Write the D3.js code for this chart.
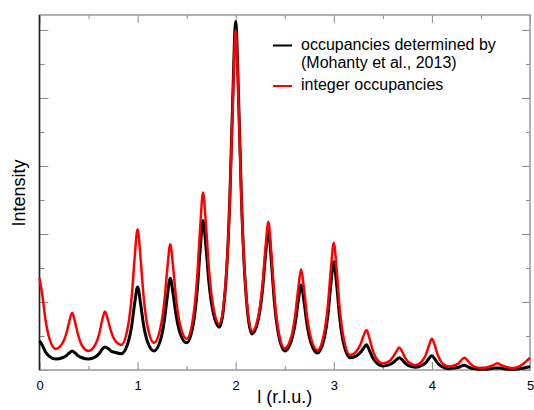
<!DOCTYPE html>
<html>
<head>
<meta charset="utf-8">
<script src="https://cdn.jsdelivr.net/npm/d3@7"></script>
<style>
  body { margin: 0; background: #fff; }
  svg text { font-family: "Liberation Sans", Arial, sans-serif; }
</style>
</head>
<body>
<div id="viz"></div>
<script>
// l positions (r.l.u.)
const lValues = [0, 0.03, 0.06, 0.1, 0.167,
  0.233, 0.273, 0.303, 0.333, 0.363, 0.393, 0.433, 0.5,
  0.567, 0.607, 0.637, 0.667, 0.697, 0.727, 0.767, 0.833,
  0.9, 0.94, 0.97, 1, 1.03, 1.06, 1.1, 1.167,
  1.233, 1.273, 1.303, 1.333, 1.363, 1.393, 1.433, 1.5,
  1.567, 1.607, 1.637, 1.667, 1.697, 1.727, 1.767, 1.833,
  1.9, 1.94, 1.97, 2, 2.03, 2.06, 2.1, 2.167,
  2.233, 2.273, 2.303, 2.333, 2.363, 2.393, 2.433, 2.5,
  2.567, 2.607, 2.637, 2.667, 2.697, 2.727, 2.767, 2.833,
  2.9, 2.94, 2.97, 3, 3.03, 3.06, 3.1, 3.167,
  3.233, 3.273, 3.303, 3.333, 3.363, 3.393, 3.433, 3.5,
  3.567, 3.607, 3.637, 3.667, 3.697, 3.727, 3.767, 3.833,
  3.9, 3.94, 3.97, 4, 4.03, 4.06, 4.1, 4.167,
  4.233, 4.273, 4.303, 4.333, 4.363, 4.393, 4.433, 4.5,
  4.567, 4.607, 4.637, 4.667, 4.697, 4.727, 4.767, 4.833,
  4.9, 4.94, 4.97, 5]

// occupancies determined by (Mohanty et al., 2013)
const blackIntensity = [0.43, 0.36, 0.27, 0.20, 0.16,
  0.18, 0.21, 0.25, 0.28, 0.25, 0.21, 0.18, 0.16,
  0.19, 0.24, 0.30, 0.34, 0.32, 0.28, 0.26, 0.24,
  0.39, 0.65, 0.98, 1.22, 0.98, 0.67, 0.42, 0.28,
  0.44, 0.73, 1.08, 1.35, 1.11, 0.80, 0.54, 0.40,
  0.67, 1.16, 1.75, 2.2, 1.81, 1.29, 0.87, 0.63,
  1.30, 2.52, 4.00, 5.12, 3.97, 2.46, 1.22, 0.53,
  0.76, 1.17, 1.67, 2.05, 1.61, 1.02, 0.55, 0.28,
  0.43, 0.69, 1.01, 1.25, 1.00, 0.67, 0.40, 0.25,
  0.45, 0.81, 1.26, 1.59, 1.24, 0.77, 0.39, 0.18,
  0.21, 0.26, 0.32, 0.37, 0.29, 0.19, 0.11, 0.06,
  0.08, 0.11, 0.15, 0.18, 0.15, 0.10, 0.06, 0.04,
  0.07, 0.11, 0.17, 0.21, 0.16, 0.10, 0.05, 0.02,
  0.03, 0.04, 0.06, 0.07, 0.05, 0.03, 0.02, 0.01,
  0.01, 0.02, 0.03, 0.03, 0.03, 0.02, 0.01, 0.01,
  0.02, 0.03, 0.04, 0.05]

// integer occupancies
const redIntensity = [1.35, 1.09, 0.75, 0.47, 0.31,
  0.39, 0.53, 0.71, 0.84, 0.70, 0.52, 0.36, 0.28,
  0.37, 0.52, 0.72, 0.86, 0.74, 0.58, 0.44, 0.37,
  0.63, 1.08, 1.65, 2.07, 1.65, 1.10, 0.65, 0.40,
  0.62, 1.01, 1.49, 1.85, 1.50, 1.04, 0.67, 0.46,
  0.78, 1.36, 2.07, 2.61, 2.13, 1.49, 0.97, 0.68,
  1.33, 2.49, 3.92, 5.0, 3.89, 2.43, 1.23, 0.57,
  0.81, 1.25, 1.78, 2.18, 1.72, 1.10, 0.60, 0.32,
  0.49, 0.81, 1.19, 1.48, 1.18, 0.79, 0.47, 0.29,
  0.53, 0.95, 1.48, 1.87, 1.46, 0.91, 0.47, 0.22,
  0.28, 0.38, 0.50, 0.59, 0.47, 0.31, 0.17, 0.10,
  0.13, 0.20, 0.27, 0.33, 0.27, 0.18, 0.11, 0.07,
  0.13, 0.23, 0.36, 0.46, 0.36, 0.22, 0.11, 0.05,
  0.07, 0.10, 0.15, 0.18, 0.14, 0.09, 0.05, 0.03,
  0.04, 0.06, 0.08, 0.10, 0.08, 0.06, 0.04, 0.03,
  0.06, 0.10, 0.14, 0.18]

const xMajorTicks = [0, 1, 2, 3, 4, 5]
const xMinorTicks = [0.5, 1.5, 2.5, 3.5, 4.5]
const yMajorTicks = [0, 1, 2, 3, 4, 5]
const yMinorTicks = [0.5, 1.5, 2.5, 3.5, 4.5]

const seriesLabels = [
  ['occupancies determined by', '(Mohanty et al., 2013)'],
  ['integer occupancies']
]
const seriesColors = ['#000', '#f00']

const width = 534,
  height = 410
const plot = { left: 39.5, right: 530, top: 15, bottom: 370 }

const svg = d3.select('#viz').append('svg')
  .attr('width', width)
  .attr('height', height)

const x = d3.scaleLinear().domain([0, 5]).range([plot.left, plot.right])
const y = d3.scaleLinear().domain([0, 5.22]).range([plot.bottom, plot.top])

// inward ticks on all four sides
const tickStyle = g => {
  g.select('.domain').remove()
  g.selectAll('.tick line').attr('stroke', '#888')
}

svg.append('g')
  .attr('transform', `translate(0, ${plot.bottom})`)
  .call(d3.axisBottom(x).tickValues(xMajorTicks).tickSize(-8).tickPadding(11).tickFormat(d3.format('d')))
  .call(tickStyle)
  .call(g => g.selectAll('text').attr('font-size', 13).attr('fill', '#000')
    .attr('font-family', '"Liberation Sans", Arial, sans-serif'))
svg.append('g')
  .attr('transform', `translate(0, ${plot.bottom})`)
  .call(d3.axisBottom(x).tickValues(xMinorTicks).tickSize(-4).tickFormat(''))
  .call(tickStyle)
svg.append('g')
  .attr('transform', `translate(0, ${plot.top})`)
  .call(d3.axisTop(x).tickValues(xMajorTicks).tickSize(-8).tickFormat(''))
  .call(tickStyle)
svg.append('g')
  .attr('transform', `translate(0, ${plot.top})`)
  .call(d3.axisTop(x).tickValues(xMinorTicks).tickSize(-4).tickFormat(''))
  .call(tickStyle)

svg.append('g')
  .attr('transform', `translate(${plot.left}, 0)`)
  .call(d3.axisLeft(y).tickValues(yMajorTicks).tickSize(-9).tickFormat(''))
  .call(tickStyle)
svg.append('g')
  .attr('transform', `translate(${plot.left}, 0)`)
  .call(d3.axisLeft(y).tickValues(yMinorTicks).tickSize(-5).tickFormat(''))
  .call(tickStyle)
svg.append('g')
  .attr('transform', `translate(${plot.right}, 0)`)
  .call(d3.axisRight(y).tickValues(yMajorTicks).tickSize(-8).tickFormat(''))
  .call(tickStyle)
svg.append('g')
  .attr('transform', `translate(${plot.right}, 0)`)
  .call(d3.axisRight(y).tickValues(yMinorTicks).tickSize(-4).tickFormat(''))
  .call(tickStyle)

// frame
svg.append('rect')
  .attr('x', plot.left).attr('y', plot.top)
  .attr('width', plot.right - plot.left).attr('height', plot.bottom - plot.top)
  .attr('fill', 'none')
  .attr('stroke', '#999')
  .attr('stroke-width', 1.5)
svg.append('line')
  .attr('x1', plot.left).attr('x2', plot.left)
  .attr('y1', plot.top).attr('y2', plot.bottom)
  .attr('stroke', '#222')
  .attr('stroke-width', 1.5)

const line = series => d3.line()
  .x((d, i) => x(lValues[i]))
  .y(d => y(d))
  .curve(d3.curveMonotoneX)(series)

svg.append('path')
  .attr('d', line(blackIntensity))
  .attr('fill', 'none')
  .attr('stroke', seriesColors[0])
  .attr('stroke-width', 3)
  .attr('stroke-linejoin', 'round')

svg.append('path')
  .attr('d', line(redIntensity))
  .attr('fill', 'none')
  .attr('stroke', seriesColors[1])
  .attr('stroke-width', 2.5)
  .attr('stroke-linejoin', 'round')

// legend
const legend = svg.append('g')
const legendRows = [{ lineY: 45.5, textY: 50 }, { lineY: 86, textY: 90 }]
seriesLabels.forEach((lines, i) => {
  legend.append('line')
    .attr('x1', 273).attr('x2', 292)
    .attr('y1', legendRows[i].lineY).attr('y2', legendRows[i].lineY)
    .attr('stroke', seriesColors[i])
    .attr('stroke-width', 2)
  lines.forEach((t, j) => {
    legend.append('text')
      .attr('x', 301)
      .attr('y', legendRows[i].textY + j * 17.5)
      .attr('font-size', 16)
      .text(t)
  })
})

// axis titles
svg.append('text')
  .attr('x', (plot.left + plot.right) / 2)
  .attr('y', 403)
  .attr('text-anchor', 'middle')
  .attr('font-size', 18)
  .text('l (r.l.u.)')

svg.append('text')
  .attr('transform', `translate(25, 193) rotate(-90)`)
  .attr('text-anchor', 'middle')
  .attr('font-size', 18)
  .text('Intensity')
</script>
</body>
</html>
